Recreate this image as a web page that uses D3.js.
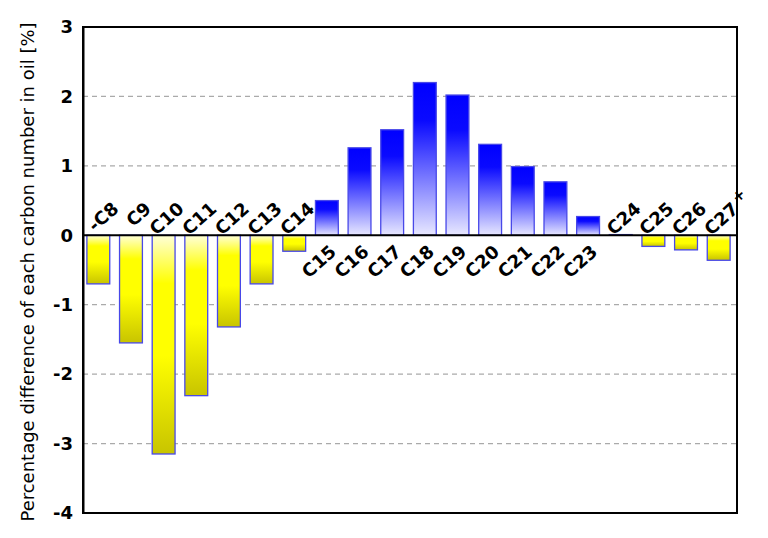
<!DOCTYPE html>
<html>
<head>
<meta charset="utf-8">
<script src="https://cdn.jsdelivr.net/npm/d3@7"></script>
<style>
  html, body { margin: 0; padding: 0; background: #fff; }
  svg { display: block; }
</style>
</head>
<body>
<svg id="chart" width="768" height="538"></svg>
<script>
const categories = ["-C8","C9","C10","C11","C12","C13","C14","C15","C16","C17","C18","C19","C20","C21","C22","C23","C24","C25","C26","C27+"];
const values = [-0.70,-1.55,-3.15,-2.31,-1.32,-0.70,-0.23,0.50,1.26,1.52,2.20,2.02,1.31,0.99,0.77,0.27,0.01,-0.16,-0.21,-0.36];
const yTicks = [-4,-3,-2,-1,0,1,2,3];
const gridTicks = [-3,-2,-1,1,2];
const yTitle = "Percentage difference of each carbon number in oil [%]";

const svg = d3.select("#chart");
const pL = 83, pR = 737, pT = 27, pB = 513;

const x = d3.scaleBand().domain(categories).range([pL - 1, pR - 2]).paddingInner(0.3).paddingOuter(0.15);
const y = d3.scaleLinear().domain([-4, 3]).range([pB, pT]);

const defs = svg.append("defs");
const gb = defs.append("linearGradient").attr("id", "gBlue").attr("x1", 0).attr("y1", 0).attr("x2", 0).attr("y2", 1);
gb.append("stop").attr("offset", "0%").attr("stop-color", "#0000ff");
gb.append("stop").attr("offset", "25%").attr("stop-color", "#0a0aff");
gb.append("stop").attr("offset", "100%").attr("stop-color", "#e8e8ff");
const gy = defs.append("linearGradient").attr("id", "gYellow").attr("x1", 0).attr("y1", 0).attr("x2", 0).attr("y2", 1);
gy.append("stop").attr("offset", "0%").attr("stop-color", "#ffffd8");
gy.append("stop").attr("offset", "22%").attr("stop-color", "#ffff00");
gy.append("stop").attr("offset", "55%").attr("stop-color", "#ffff00");
gy.append("stop").attr("offset", "100%").attr("stop-color", "#c8c400");

// grid
svg.append("g").selectAll("line").data(gridTicks).join("line")
  .attr("x1", pL).attr("x2", pR)
  .attr("y1", d => y(d)).attr("y2", d => y(d))
  .attr("stroke", "#aaa").attr("stroke-width", 1.2).attr("stroke-dasharray", "5,4");

// bars
svg.append("g").selectAll("rect").data(values).join("rect")
  .attr("x", (d, i) => x(categories[i]))
  .attr("width", x.bandwidth())
  .attr("y", d => y(Math.max(0, d)))
  .attr("height", d => Math.abs(y(d) - y(0)))
  .attr("fill", d => d >= 0 ? "url(#gBlue)" : "url(#gYellow)")
  .attr("stroke", "#4848e8").attr("stroke-width", 1.3);

// zero line
svg.append("line").attr("x1", pL).attr("x2", pR).attr("y1", y(0)).attr("y2", y(0))
  .attr("stroke", "#000").attr("stroke-width", 2);

// frame
svg.append("rect").attr("x", pL).attr("y", pT).attr("width", pR - pL).attr("height", pB - pT)
  .attr("fill", "none").attr("stroke", "#000").attr("stroke-width", 2);

// y axis via d3
const yAxis = d3.axisLeft(y).tickValues(yTicks).tickSize(0).tickPadding(10).tickFormat(d => String(d));
const ga = svg.append("g").attr("transform", `translate(${pL},0)`).call(yAxis);
ga.select(".domain").attr("stroke", "#000").attr("stroke-width", 2);
ga.selectAll("text").attr("font-family", "DejaVu Sans, Verdana, sans-serif").attr("font-weight", "bold")
  .attr("font-size", 18).attr("fill", "#000");

// category labels
const ang = 42, ca = Math.cos(ang * Math.PI / 180), sa = Math.sin(ang * Math.PI / 180);
const lab = svg.append("g").selectAll("text").data(values).join("text")
  .attr("text-anchor", "end")
  .attr("font-family", "DejaVu Sans, Verdana, sans-serif").attr("font-weight", "bold")
  .attr("font-size", 18).attr("fill", "#000");
lab.each(function(d, i) {
  const t = d3.select(this);
  const name = categories[i];
  const cx = x(name) + x.bandwidth();
  let px, py;
  if (d > 0.05) { px = cx - 1; py = y(0) + 18; }
  else { px = cx + 10; py = y(0) - 25; }
  if (name.endsWith("+")) {
    const adv = 15;
    px += adv * ca; py -= adv * sa;
    t.append("tspan").text(name.slice(0, -1));
    t.append("tspan").attr("font-size", 15).attr("dx", 3).attr("dy", -7).text("+");
  } else {
    t.text(name);
  }
  t.attr("transform", `translate(${px},${py}) rotate(${-ang})`);
});

// y title
svg.append("text")
  .attr("transform", `translate(34,${(pT + pB) / 2 + 2}) rotate(-90)`)
  .attr("text-anchor", "middle")
  .attr("font-family", "DejaVu Sans, Verdana, sans-serif")
  .attr("font-size", 18).attr("fill", "#000")
  .text(yTitle);
</script>
</body>
</html>
